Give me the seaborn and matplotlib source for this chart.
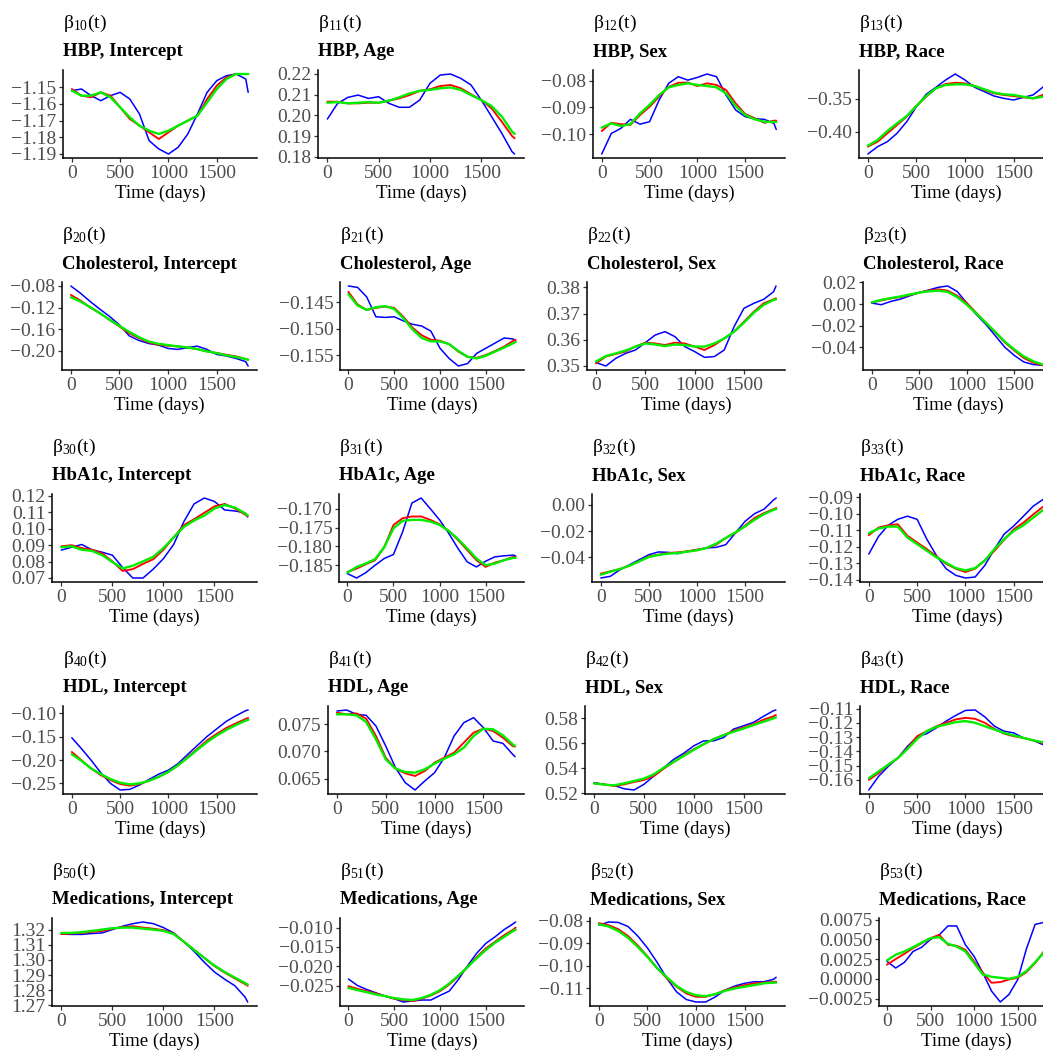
import matplotlib
matplotlib.use("Agg")
import matplotlib.pyplot as plt
import pandas as pd
import seaborn as sns

DAYS = [0, 100, 200, 300, 400, 500, 600, 700, 800, 900, 1000,
        1100, 1200, 1300, 1400, 1500, 1600, 1700, 1800, 1825]

OUTCOMES = ["HBP", "Cholesterol", "HbA1c", "HDL", "Medications"]
COVARIATES = ["Intercept", "Age", "Sex", "Race"]
SERIES = ["blue", "red", "green"]
COLORS = ["#0000FF", "#FF0000", "#00EE00"]
WIDTHS = [1.1, 1.35, 1.7]
X_TICKS = [0, 500, 1000, 1500]
X_LABEL = "Time (days)"

# ---- row 1: HBP ----
HBP_INT_B = [-1.152, -1.151, -1.155, -1.158, -1.155, -1.153, -1.157, -1.166, -1.182, -1.187, -1.190, -1.186, -1.178, -1.166, -1.153, -1.146, -1.143, -1.142, -1.145, -1.153]
HBP_INT_R = [-1.151, -1.155, -1.156, -1.153, -1.155, -1.162, -1.169, -1.173, -1.177, -1.181, -1.177, -1.173, -1.170, -1.167, -1.157, -1.149, -1.144, -1.142, -1.142, -1.142]
HBP_INT_G = [-1.152, -1.155, -1.155, -1.153, -1.156, -1.162, -1.168, -1.173, -1.176, -1.178, -1.176, -1.173, -1.170, -1.167, -1.159, -1.151, -1.145, -1.142, -1.142, -1.142]
HBP_INT_T = ["\u22121.19", "\u22121.18", "\u22121.17", "\u22121.16", "\u22121.15"]

HBP_AGE_B = [0.1982, 0.2058, 0.2087, 0.2098, 0.2082, 0.2090, 0.2058, 0.2039, 0.2039, 0.2074, 0.2155, 0.2195, 0.2200, 0.2179, 0.2147, 0.2074, 0.1994, 0.1913, 0.1824, 0.1813]
HBP_AGE_R = [0.2066, 0.2066, 0.2058, 0.2058, 0.2061, 0.2061, 0.2071, 0.2082, 0.2098, 0.2118, 0.2126, 0.2142, 0.2147, 0.2131, 0.2102, 0.2074, 0.2034, 0.1969, 0.1900, 0.1889]
HBP_AGE_G = [0.2061, 0.2064, 0.2058, 0.2061, 0.2064, 0.2061, 0.2071, 0.2087, 0.2106, 0.2119, 0.2123, 0.2131, 0.2135, 0.2123, 0.2098, 0.2074, 0.2045, 0.1994, 0.1921, 0.1910]
HBP_AGE_T = ["0.18", "0.19", "0.20", "0.21", "0.22"]

HBP_SEX_B = [-0.1075, -0.0998, -0.0979, -0.0945, -0.0963, -0.0954, -0.0873, -0.0810, -0.0785, -0.0798, -0.0788, -0.0775, -0.0785, -0.0854, -0.0910, -0.0935, -0.0943, -0.0945, -0.0960, -0.0983]
HBP_SEX_R = [-0.0989, -0.0958, -0.0963, -0.0966, -0.0929, -0.0898, -0.0860, -0.0823, -0.0808, -0.0807, -0.0820, -0.0810, -0.0816, -0.0835, -0.0885, -0.0925, -0.0941, -0.0958, -0.0950, -0.0950]
HBP_SEX_G = [-0.0976, -0.0960, -0.0970, -0.0963, -0.0923, -0.0891, -0.0854, -0.0825, -0.0816, -0.0810, -0.0816, -0.0820, -0.0825, -0.0848, -0.0895, -0.0929, -0.0945, -0.0954, -0.0955, -0.0955]
HBP_SEX_T = ["\u22120.10", "\u22120.09", "\u22120.08"]

HBP_RACE_B = [-0.4338, -0.4227, -0.4152, -0.4025, -0.3848, -0.3621, -0.3434, -0.3328, -0.3217, -0.3126, -0.3217, -0.3328, -0.3394, -0.3460, -0.3495, -0.3520, -0.3480, -0.3444, -0.3328, -0.3290]
HBP_RACE_R = [-0.4227, -0.4152, -0.4025, -0.3899, -0.3773, -0.3611, -0.3470, -0.3343, -0.3278, -0.3258, -0.3268, -0.3308, -0.3369, -0.3419, -0.3444, -0.3460, -0.3480, -0.3495, -0.3444, -0.3430]
HBP_RACE_G = [-0.4212, -0.4126, -0.3990, -0.3874, -0.3763, -0.3611, -0.3460, -0.3343, -0.3293, -0.3283, -0.3283, -0.3308, -0.3359, -0.3409, -0.3434, -0.3444, -0.3470, -0.3495, -0.3470, -0.3460]
HBP_RACE_T = ["\u22120.40", "\u22120.35"]

# ---- row 2: Cholesterol ----
CHO_INT_B = [-0.0800, -0.0935, -0.1089, -0.1231, -0.1366, -0.1520, -0.1723, -0.1809, -0.1865, -0.1895, -0.1957, -0.1975, -0.1945, -0.1914, -0.1975, -0.2068, -0.2098, -0.2142, -0.2203, -0.2283]
CHO_INT_R = [-0.0966, -0.1071, -0.1200, -0.1305, -0.1428, -0.1551, -0.1674, -0.1766, -0.1846, -0.1889, -0.1908, -0.1920, -0.1938, -0.1969, -0.2012, -0.2043, -0.2074, -0.2105, -0.2154, -0.2166]
CHO_INT_G = [-0.1009, -0.1089, -0.1194, -0.1305, -0.1428, -0.1538, -0.1649, -0.1748, -0.1828, -0.1871, -0.1895, -0.1920, -0.1938, -0.1969, -0.2012, -0.2043, -0.2086, -0.2117, -0.2154, -0.2166]
CHO_INT_T = ["\u22120.20", "\u22120.16", "\u22120.12", "\u22120.08"]

CHO_AGE_B = [-0.14197, -0.14223, -0.14403, -0.14777, -0.14790, -0.14777, -0.14855, -0.14919, -0.14952, -0.15048, -0.15371, -0.15565, -0.15706, -0.15661, -0.15468, -0.15371, -0.15274, -0.15177, -0.15197, -0.15242]
CHO_AGE_R = [-0.14306, -0.14545, -0.14648, -0.14610, -0.14584, -0.14610, -0.14777, -0.14984, -0.15126, -0.15210, -0.15229, -0.15294, -0.15435, -0.15532, -0.15552, -0.15500, -0.15423, -0.15339, -0.15229, -0.15210]
CHO_AGE_G = [-0.14352, -0.14565, -0.14648, -0.14597, -0.14577, -0.14629, -0.14803, -0.15016, -0.15177, -0.15242, -0.15242, -0.15294, -0.15423, -0.15532, -0.15565, -0.15513, -0.15435, -0.15358, -0.15274, -0.15255]
CHO_AGE_T = ["\u22120.155", "\u22120.150", "\u22120.145"]

CHO_SEX_B = [0.3513, 0.3500, 0.3529, 0.3548, 0.3561, 0.3589, 0.3618, 0.3631, 0.3612, 0.3574, 0.3555, 0.3533, 0.3536, 0.3561, 0.3650, 0.3720, 0.3739, 0.3754, 0.3783, 0.3805]
CHO_SEX_R = [0.3510, 0.3536, 0.3546, 0.3555, 0.3574, 0.3589, 0.3586, 0.3580, 0.3589, 0.3586, 0.3574, 0.3561, 0.3580, 0.3605, 0.3631, 0.3669, 0.3707, 0.3739, 0.3754, 0.3758]
CHO_SEX_G = [0.3517, 0.3538, 0.3548, 0.3559, 0.3574, 0.3586, 0.3582, 0.3576, 0.3582, 0.3580, 0.3574, 0.3574, 0.3586, 0.3605, 0.3631, 0.3665, 0.3703, 0.3733, 0.3752, 0.3754]
CHO_SEX_T = ["0.35", "0.36", "0.37", "0.38"]

CHO_RACE_B = [0.0009, -0.0006, 0.0024, 0.0045, 0.0076, 0.0106, 0.0130, 0.0155, 0.0167, 0.0115, 0.0009, -0.0097, -0.0188, -0.0294, -0.0400, -0.0476, -0.0536, -0.0560, -0.0567, -0.0567]
CHO_RACE_R = [0.0015, 0.0033, 0.0052, 0.0064, 0.0085, 0.0106, 0.0124, 0.0136, 0.0124, 0.0076, 0.0009, -0.0082, -0.0173, -0.0264, -0.0355, -0.0430, -0.0500, -0.0542, -0.0567, -0.0573]
CHO_RACE_G = [0.0015, 0.0039, 0.0055, 0.0070, 0.0088, 0.0106, 0.0118, 0.0124, 0.0112, 0.0064, -0.0006, -0.0088, -0.0173, -0.0258, -0.0348, -0.0421, -0.0485, -0.0530, -0.0560, -0.0567]
CHO_RACE_T = ["\u22120.04", "\u22120.02", "0.00", "0.02"]

# ---- row 3: HbA1c ----
HBA_INT_B = [0.0870, 0.0887, 0.0904, 0.0872, 0.0857, 0.0839, 0.0764, 0.0700, 0.0700, 0.0754, 0.0818, 0.0904, 0.1043, 0.1151, 0.1187, 0.1166, 0.1114, 0.1108, 0.1097, 0.1071]
HBA_INT_R = [0.0893, 0.0900, 0.0882, 0.0872, 0.0850, 0.0801, 0.0743, 0.0754, 0.0786, 0.0814, 0.0872, 0.0947, 0.1022, 0.1058, 0.1097, 0.1136, 0.1151, 0.1123, 0.1086, 0.1076]
HBA_INT_G = [0.0887, 0.0893, 0.0872, 0.0865, 0.0839, 0.0797, 0.0758, 0.0775, 0.0801, 0.0829, 0.0882, 0.0947, 0.1011, 0.1050, 0.1080, 0.1123, 0.1144, 0.1129, 0.1093, 0.1080]
HBA_INT_T = ["0.07", "0.08", "0.09", "0.10", "0.11", "0.12"]

HBA_AGE_B = [-0.18723, -0.18839, -0.18696, -0.18500, -0.18321, -0.18214, -0.17607, -0.16848, -0.16714, -0.17000, -0.17295, -0.17652, -0.18054, -0.18411, -0.18545, -0.18393, -0.18277, -0.18250, -0.18232, -0.18250]
HBA_AGE_R = [-0.18679, -0.18589, -0.18473, -0.18366, -0.18018, -0.17429, -0.17250, -0.17205, -0.17205, -0.17295, -0.17411, -0.17589, -0.17830, -0.18098, -0.18366, -0.18545, -0.18429, -0.18366, -0.18277, -0.18277]
HBA_AGE_G = [-0.18696, -0.18545, -0.18455, -0.18339, -0.18018, -0.17518, -0.17321, -0.17295, -0.17295, -0.17339, -0.17429, -0.17589, -0.17804, -0.18054, -0.18321, -0.18500, -0.18455, -0.18366, -0.18304, -0.18304]
HBA_AGE_T = ["\u22120.185", "\u22120.180", "\u22120.175", "\u22120.170"]

HBA_SEX_B = [-0.0557, -0.0544, -0.0494, -0.0456, -0.0418, -0.0380, -0.0359, -0.0362, -0.0372, -0.0354, -0.0342, -0.0329, -0.0324, -0.0304, -0.0215, -0.0127, -0.0068, -0.0033, 0.0038, 0.0051]
HBA_SEX_R = [-0.0524, -0.0506, -0.0489, -0.0463, -0.0430, -0.0392, -0.0380, -0.0367, -0.0362, -0.0354, -0.0342, -0.0329, -0.0304, -0.0253, -0.0215, -0.0159, -0.0101, -0.0063, -0.0033, -0.0025]
HBA_SEX_G = [-0.0532, -0.0509, -0.0489, -0.0463, -0.0430, -0.0397, -0.0382, -0.0372, -0.0367, -0.0357, -0.0347, -0.0329, -0.0296, -0.0253, -0.0210, -0.0165, -0.0114, -0.0071, -0.0038, -0.0033]
HBA_SEX_T = ["\u22120.04", "\u22120.02", "0.00"]

HBA_RACE_B = [-0.1245, -0.1139, -0.1071, -0.1035, -0.1016, -0.1035, -0.1155, -0.1255, -0.1334, -0.1374, -0.1390, -0.1384, -0.1314, -0.1215, -0.1125, -0.1075, -0.1016, -0.0956, -0.0916, -0.0906]
HBA_RACE_R = [-0.1131, -0.1085, -0.1071, -0.1065, -0.1135, -0.1175, -0.1215, -0.1259, -0.1304, -0.1334, -0.1354, -0.1334, -0.1284, -0.1225, -0.1159, -0.1095, -0.1055, -0.1006, -0.0960, -0.0952]
HBA_RACE_G = [-0.1119, -0.1091, -0.1079, -0.1079, -0.1145, -0.1185, -0.1225, -0.1265, -0.1298, -0.1330, -0.1344, -0.1330, -0.1284, -0.1215, -0.1155, -0.1105, -0.1071, -0.1025, -0.0980, -0.0972]
HBA_RACE_T = ["\u22120.14", "\u22120.13", "\u22120.12", "\u22120.11", "\u22120.10", "\u22120.09"]

# ---- row 4: HDL ----
HDL_INT_B = [-0.1523, -0.1757, -0.2004, -0.2273, -0.2500, -0.2641, -0.2627, -0.2535, -0.2414, -0.2301, -0.2216, -0.2075, -0.1877, -0.1686, -0.1495, -0.1332, -0.1170, -0.1050, -0.0943, -0.0929]
HDL_INT_R = [-0.1827, -0.2004, -0.2181, -0.2323, -0.2429, -0.2513, -0.2549, -0.2513, -0.2443, -0.2358, -0.2252, -0.2110, -0.1934, -0.1757, -0.1580, -0.1438, -0.1311, -0.1212, -0.1120, -0.1099]
HDL_INT_G = [-0.1877, -0.2018, -0.2181, -0.2301, -0.2407, -0.2485, -0.2521, -0.2500, -0.2443, -0.2358, -0.2252, -0.2110, -0.1948, -0.1778, -0.1615, -0.1474, -0.1353, -0.1248, -0.1156, -0.1141]
HDL_INT_T = ["\u22120.25", "\u22120.20", "\u22120.15", "\u22120.10"]

HDL_AGE_B = [0.07745, 0.07764, 0.07684, 0.07666, 0.07469, 0.07101, 0.06702, 0.06426, 0.06291, 0.06457, 0.06610, 0.06887, 0.07285, 0.07531, 0.07623, 0.07439, 0.07193, 0.07150, 0.06948, 0.06905]
HDL_AGE_R = [0.07715, 0.07684, 0.07702, 0.07604, 0.07285, 0.06887, 0.06684, 0.06598, 0.06549, 0.06641, 0.06794, 0.06887, 0.06979, 0.07163, 0.07347, 0.07420, 0.07377, 0.07255, 0.07101, 0.07089]
HDL_AGE_G = [0.07684, 0.07684, 0.07666, 0.07543, 0.07224, 0.06856, 0.06684, 0.06623, 0.06610, 0.06672, 0.06776, 0.06868, 0.06948, 0.07071, 0.07285, 0.07420, 0.07408, 0.07298, 0.07132, 0.07101]
HDL_AGE_T = ["0.065", "0.070", "0.075"]

HDL_SEX_B = [0.5286, 0.5272, 0.5264, 0.5237, 0.5227, 0.5272, 0.5339, 0.5406, 0.5473, 0.5521, 0.5580, 0.5620, 0.5620, 0.5647, 0.5714, 0.5741, 0.5768, 0.5816, 0.5861, 0.5867]
HDL_SEX_R = [0.5280, 0.5272, 0.5259, 0.5272, 0.5291, 0.5307, 0.5339, 0.5398, 0.5452, 0.5505, 0.5553, 0.5594, 0.5634, 0.5666, 0.5701, 0.5727, 0.5754, 0.5789, 0.5816, 0.5827]
HDL_SEX_G = [0.5280, 0.5270, 0.5264, 0.5280, 0.5299, 0.5318, 0.5353, 0.5406, 0.5452, 0.5500, 0.5548, 0.5594, 0.5634, 0.5666, 0.5693, 0.5719, 0.5746, 0.5773, 0.5800, 0.5808]
HDL_SEX_T = ["0.52", "0.54", "0.56", "0.58"]

HDL_RACE_B = [-0.1671, -0.1576, -0.1506, -0.1447, -0.1364, -0.1298, -0.1275, -0.1234, -0.1187, -0.1147, -0.1112, -0.1109, -0.1157, -0.1223, -0.1258, -0.1270, -0.1305, -0.1322, -0.1352, -0.1345]
HDL_RACE_R = [-0.1600, -0.1553, -0.1494, -0.1447, -0.1376, -0.1293, -0.1258, -0.1223, -0.1199, -0.1175, -0.1164, -0.1171, -0.1199, -0.1242, -0.1275, -0.1293, -0.1305, -0.1322, -0.1341, -0.1341]
HDL_RACE_G = [-0.1588, -0.1541, -0.1494, -0.1447, -0.1383, -0.1312, -0.1258, -0.1227, -0.1211, -0.1194, -0.1187, -0.1199, -0.1223, -0.1246, -0.1270, -0.1288, -0.1305, -0.1322, -0.1336, -0.1336]
HDL_RACE_T = ["\u22120.16", "\u22120.15", "\u22120.14", "\u22120.13", "\u22120.12", "\u22120.11"]

# ---- row 5: Medications ----
MED_INT_B = [1.3170, 1.3168, 1.3168, 1.3174, 1.3178, 1.3200, 1.3222, 1.3239, 1.3250, 1.3239, 1.3213, 1.3178, 1.3120, 1.3056, 1.2984, 1.2920, 1.2872, 1.2829, 1.2754, 1.2722]
MED_INT_R = [1.3170, 1.3174, 1.3178, 1.3185, 1.3191, 1.3206, 1.3217, 1.3222, 1.3213, 1.3206, 1.3196, 1.3174, 1.3120, 1.3066, 1.3013, 1.2959, 1.2916, 1.2877, 1.2840, 1.2829]
MED_INT_G = [1.3178, 1.3178, 1.3183, 1.3191, 1.3200, 1.3209, 1.3213, 1.3213, 1.3206, 1.3200, 1.3191, 1.3170, 1.3120, 1.3066, 1.3013, 1.2963, 1.2920, 1.2883, 1.2847, 1.2836]
MED_INT_T = ["1.27", "1.28", "1.29", "1.30", "1.31", "1.32"]

MED_AGE_B = [-0.02329, -0.02499, -0.02601, -0.02687, -0.02772, -0.02840, -0.02925, -0.02900, -0.02874, -0.02874, -0.02755, -0.02644, -0.02346, -0.01988, -0.01664, -0.01409, -0.01239, -0.01051, -0.00898, -0.00855]
MED_AGE_R = [-0.02516, -0.02584, -0.02644, -0.02704, -0.02772, -0.02840, -0.02874, -0.02900, -0.02840, -0.02755, -0.02644, -0.02474, -0.02261, -0.02022, -0.01767, -0.01537, -0.01366, -0.01196, -0.01051, -0.01000]
MED_AGE_G = [-0.02559, -0.02618, -0.02670, -0.02730, -0.02772, -0.02823, -0.02857, -0.02874, -0.02823, -0.02738, -0.02618, -0.02448, -0.02244, -0.02022, -0.01792, -0.01579, -0.01392, -0.01239, -0.01085, -0.01051]
MED_AGE_T = ["\u22120.025", "\u22120.020", "\u22120.015", "\u22120.010"]

MED_SEX_B = [-0.0819, -0.0805, -0.0807, -0.0825, -0.0867, -0.0920, -0.0984, -0.1055, -0.1115, -0.1149, -0.1160, -0.1160, -0.1137, -0.1107, -0.1089, -0.1077, -0.1070, -0.1070, -0.1059, -0.1050]
MED_SEX_R = [-0.0810, -0.0819, -0.0837, -0.0867, -0.0909, -0.0957, -0.1010, -0.1055, -0.1092, -0.1122, -0.1137, -0.1137, -0.1125, -0.1107, -0.1095, -0.1085, -0.1077, -0.1074, -0.1070, -0.1070]
MED_SEX_G = [-0.0815, -0.0825, -0.0845, -0.0875, -0.0915, -0.0960, -0.1010, -0.1050, -0.1089, -0.1115, -0.1130, -0.1134, -0.1125, -0.1110, -0.1100, -0.1092, -0.1085, -0.1077, -0.1074, -0.1074]
MED_SEX_T = ["\u22120.11", "\u22120.10", "\u22120.09", "\u22120.08"]

MED_RACE_B = [0.00221, 0.00137, 0.00208, 0.00347, 0.00401, 0.00500, 0.00557, 0.00670, 0.00670, 0.00431, 0.00284, 0.00076, -0.00156, -0.00294, -0.00198, -0.00010, 0.00380, 0.00690, 0.00715, 0.00720]
MED_RACE_R = [0.00179, 0.00250, 0.00317, 0.00389, 0.00452, 0.00515, 0.00557, 0.00431, 0.00418, 0.00368, 0.00221, 0.00076, -0.00050, -0.00042, -0.00008, 0.00013, 0.00084, 0.00200, 0.00347, 0.00368]
MED_RACE_G = [0.00233, 0.00305, 0.00347, 0.00401, 0.00460, 0.00515, 0.00527, 0.00443, 0.00410, 0.00347, 0.00200, 0.00055, 0.00025, 0.00013, 0.00000, 0.00025, 0.00097, 0.00210, 0.00334, 0.00359]
MED_RACE_T = ["\u22120.0025", "0.0000", "0.0025", "0.0050", "0.0075"]

GRID = [
    [(HBP_INT_B, HBP_INT_R, HBP_INT_G, HBP_INT_T), (HBP_AGE_B, HBP_AGE_R, HBP_AGE_G, HBP_AGE_T),
     (HBP_SEX_B, HBP_SEX_R, HBP_SEX_G, HBP_SEX_T), (HBP_RACE_B, HBP_RACE_R, HBP_RACE_G, HBP_RACE_T)],
    [(CHO_INT_B, CHO_INT_R, CHO_INT_G, CHO_INT_T), (CHO_AGE_B, CHO_AGE_R, CHO_AGE_G, CHO_AGE_T),
     (CHO_SEX_B, CHO_SEX_R, CHO_SEX_G, CHO_SEX_T), (CHO_RACE_B, CHO_RACE_R, CHO_RACE_G, CHO_RACE_T)],
    [(HBA_INT_B, HBA_INT_R, HBA_INT_G, HBA_INT_T), (HBA_AGE_B, HBA_AGE_R, HBA_AGE_G, HBA_AGE_T),
     (HBA_SEX_B, HBA_SEX_R, HBA_SEX_G, HBA_SEX_T), (HBA_RACE_B, HBA_RACE_R, HBA_RACE_G, HBA_RACE_T)],
    [(HDL_INT_B, HDL_INT_R, HDL_INT_G, HDL_INT_T), (HDL_AGE_B, HDL_AGE_R, HDL_AGE_G, HDL_AGE_T),
     (HDL_SEX_B, HDL_SEX_R, HDL_SEX_G, HDL_SEX_T), (HDL_RACE_B, HDL_RACE_R, HDL_RACE_G, HDL_RACE_T)],
    [(MED_INT_B, MED_INT_R, MED_INT_G, MED_INT_T), (MED_AGE_B, MED_AGE_R, MED_AGE_G, MED_AGE_T),
     (MED_SEX_B, MED_SEX_R, MED_SEX_G, MED_SEX_T), (MED_RACE_B, MED_RACE_R, MED_RACE_G, MED_RACE_T)],
]

# ---- layout (pixels) ----
W, H = 1043, 1053
ROW_TOP = [70, 282, 494, 706, 918]
PANEL_H = 88
LEFTS = [[63, 318, 593, 859], [62, 340, 587, 863], [52, 339, 592, 860],
         [63, 328, 585, 860], [52, 340, 590, 879]]
RIGHTS = [257, 524, 785, 1054]

sns.set_theme(style="ticks")
plt.rcParams["font.family"] = ["Liberation Serif", "DejaVu Serif"]
plt.rcParams["mathtext.default"] = "regular"
plt.rcParams["axes.unicode_minus"] = True

fig = plt.figure(figsize=(W / 100, H / 100), dpi=100)
fig.patch.set_facecolor("white")

for i, outcome in enumerate(OUTCOMES):
    for j, cov in enumerate(COVARIATES):
        b_vals, r_vals, g_vals, ticks = GRID[i][j]
        l, r, t = LEFTS[i][j], RIGHTS[j], ROW_TOP[i]
        bot = t + PANEL_H
        ax = fig.add_axes([l / W, 1 - bot / H, (r - l) / W, PANEL_H / H])
        ax.set_facecolor("white")
        df = pd.DataFrame({
            "day": DAYS * 3,
            "value": list(b_vals) + list(r_vals) + list(g_vals),
            "series": [SERIES[0]] * len(DAYS) + [SERIES[1]] * len(DAYS) + [SERIES[2]] * len(DAYS),
        })
        sns.lineplot(data=df, x="day", y="value", hue="series", size="series",
                     hue_order=SERIES, palette=dict(zip(SERIES, COLORS)),
                     size_order=SERIES, sizes=dict(zip(SERIES, WIDTHS)),
                     legend=False, ax=ax, errorbar=None)
        allv = list(b_vals) + list(r_vals) + list(g_vals)
        lo, hi = min(allv), max(allv)
        pad = 0.05 * (hi - lo)
        ax.set_ylim(lo - pad, hi + pad)
        span = max(DAYS) - min(DAYS)
        ax.set_xlim(min(DAYS) - 0.05 * span, max(DAYS) + 0.05 * span)
        ax.set_xticks(X_TICKS)
        ax.set_xticklabels([str(v) for v in X_TICKS])
        ax.set_yticks([float(s.replace("\u2212", "-")) for s in ticks])
        ax.set_yticklabels(ticks)
        ax.set_ylabel("")
        ax.set_xlabel(X_LABEL, fontsize=13.5, color="black")
        ax.xaxis.set_label_coords(0.5, -27 / PANEL_H)
        for side in ["top", "right"]:
            ax.spines[side].set_visible(False)
        for side in ["left", "bottom"]:
            ax.spines[side].set_color("black")
            ax.spines[side].set_linewidth(1.1)
        ax.tick_params(axis="both", length=2.8, width=0.9, color="#333333",
                       labelsize=14, labelcolor="#4D4D4D", pad=2)
        fig.text(l / W, 1 - (t - 47) / H, r"$\beta_{%d%d}(t)$" % (i + 1, j),
                 ha="left", va="center", fontsize=14, color="black")
        fig.text(l / W, 1 - (t - 18) / H, f"{outcome}, {cov}", ha="left", va="center",
                 fontsize=13.5, fontweight="bold", color="black")

fig.savefig("out.png", dpi=100, facecolor="white")
